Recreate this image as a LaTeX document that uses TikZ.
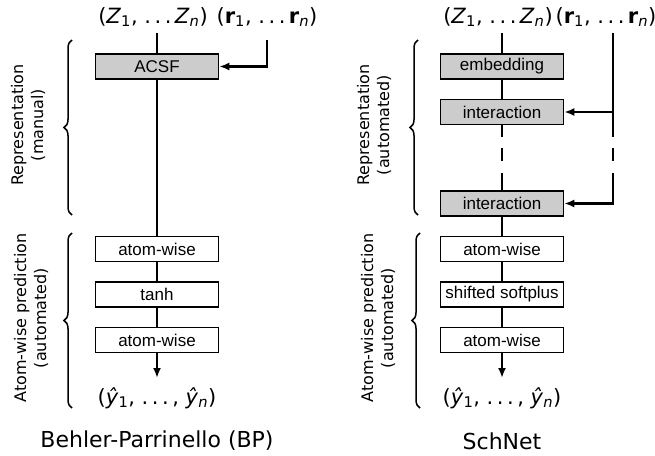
\documentclass[tikz,border=0pt]{standalone}
\usepackage{fontspec}
\setmainfont{DejaVu Sans}
\newfontfamily\boxfont{Liberation Sans}
\usetikzlibrary{arrows.meta,decorations.pathreplacing}

\tikzset{
  layer/.style={draw=black,line width=1.5pt,minimum width=123pt,minimum height=25pt,inner sep=0pt,font=\boxfont\fontsize{17}{19}\selectfont},
  rep/.style={layer,fill=black!20},
  flow/.style={line width=2.8pt},
  feed/.style={flow,-{Latex[length=10pt,width=8pt]}},
  skip/.style={flow,dash pattern=on 12pt off 11pt on 13pt off 12pt on 100pt},
  curly/.style={decorate,decoration={brace,amplitude=8pt},line width=1.5pt},
  side/.style={rotate=90,align=center,font=\fontsize{16}{20}\selectfont},
  io/.style={font=\fontsize{21}{24}\selectfont},
  heading/.style={font=\fontsize{22}{26}\selectfont}
}

\begin{document}
\begin{tikzpicture}[x=1pt,y=-1pt]
            \useasboundingbox (0,0) rectangle (655,455);
            \node[io] (zl) at (153,17) {(\textit{Z}\textsubscript{1}, .\,.\,.\,\textit{Z}\textsubscript{\textit{n}})};
            \node[io] (rl) at (267,17) {(\textbf{r}\textsubscript{1}, .\,.\,.\,\textbf{r}\textsubscript{\textit{n}})};
            \node[rep] (acsf) at (157,66.5) {ACSF};
            \node[layer] (awl1) at (157,249) {atom-wise};
            \node[layer] (tanh) at (157,294.5) {tanh};
            \node[layer] (awl2) at (157,340) {atom-wise};
            \node[io] (yl) at (157,398) {(\textit{ŷ}\textsubscript{1}, .\,.\,.\,, \textit{ŷ}\textsubscript{\textit{n}})};
            \node[heading] (bp) at (157,441) {Behler-Parrinello (BP)};
            \node[side] (repl) at (28,125) {Representation\\(manual)};
            \node[side] (predl) at (31,318) {Atom-wise prediction\\(automated)};
            \coordinate (zl0) at (157,33);
            \coordinate (rl0) at (267,40);
            \coordinate (yl0) at (157,378);
            \draw (zl0) edge [flow] (acsf.north);
            \draw (acsf.south) edge [flow] (awl1.north);
            \draw (awl1.south) edge [flow] (tanh.north);
            \draw (tanh.south) edge [flow] (awl2.north);
            \draw (awl2.south) edge [feed] (yl0);
            \draw[feed] (rl0) |- (acsf.east);
            \draw[curly] (72,215) -- (72,40);
            \draw[curly] (72,408) -- (72,233);

            \node[io] (zr) at (498,17) {(\textit{Z}\textsubscript{1}, .\,.\,.\,\textit{Z}\textsubscript{\textit{n}})};
            \node[io] (rr) at (606,17) {(\textbf{r}\textsubscript{1}, .\,.\,.\,\textbf{r}\textsubscript{\textit{n}})};
            \node[rep] (emb) at (502,66.5) {embedding};
            \node[rep] (int1) at (502,112) {interaction};
            \node[rep] (int2) at (502,203.5) {interaction};
            \node[layer] (awr1) at (502,249) {atom-wise};
            \node[layer] (ssp) at (502,294.5) {shifted softplus};
            \node[layer] (awr2) at (502,340) {atom-wise};
            \node[io] (yr) at (502,398) {(\textit{ŷ}\textsubscript{1}, .\,.\,.\,, \textit{ŷ}\textsubscript{\textit{n}})};
            \node[heading] (sn) at (502,441) {SchNet};
            \node[side] (repr) at (374,125) {Representation\\(automated)};
            \node[side] (predr) at (378,318) {Atom-wise prediction\\(automated)};
            \coordinate (zr0) at (502,33);
            \coordinate (rr0) at (613,33);
            \coordinate (rr1) at (613,112);
            \coordinate (rr2) at (613,125);
            \coordinate (yr0) at (502,378);
            \draw (zr0) edge [flow] (emb.north);
            \draw (emb.south) edge [flow] (int1.north);
            \draw (int1.south) edge [skip] (int2.north);
            \draw (int2.south) edge [flow] (awr1.north);
            \draw (awr1.south) edge [flow] (ssp.north);
            \draw (ssp.south) edge [flow] (awr2.north);
            \draw (awr2.south) edge [feed] (yr0);
            \draw[flow] (rr0) -- (rr2);
            \draw[feed] (rr1) -- (int1.east);
            \draw[skip,-{Latex[length=10pt,width=8pt]}] (rr2) |- (int2.east);
            \draw[curly] (418,215) -- (418,40);
            \draw[curly] (420,408) -- (420,233);
        \end{tikzpicture}
\end{document}
